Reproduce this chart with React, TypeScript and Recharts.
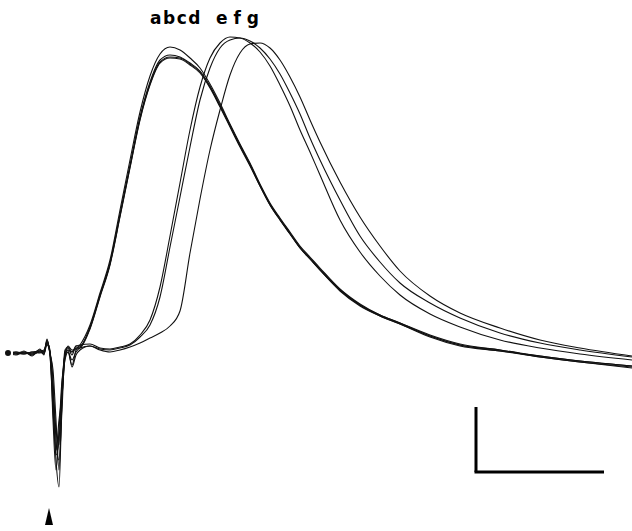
import React from 'react';
import { LineChart, Line, XAxis, YAxis, ReferenceLine, ReferenceDot } from 'recharts';

// time grid (chart time units)
const timeGrid = [8, 16, 24, 32, 40, 44, 47, 50, 53, 56, 59, 62, 65, 68, 72, 76, 80, 90, 100, 110, 120, 130, 140, 150, 160, 170, 180, 190, 200, 210, 220, 230, 240, 250, 260, 270, 280, 290, 300, 310, 320, 340, 360, 380, 400, 430, 460, 500, 540, 580, 632];

// potential traces (relative to baseline)
const traceA = [0, -1, 2, -3, 4, -2, 13, -2, -47, -107, -134, -47, -2, 3, 1, 5, 6, 26, 58, 90, 139, 188, 236, 271, 293, 298, 296, 290, 282, 267, 248, 228, 208, 189, 168, 149, 134, 120, 106, 95, 84, 63, 48, 38, 30, 17, 8, 3, -3, -8, -13];
const traceB = [1, 0, -1, 1, 2, 3, 10, 3, -67, -117, -77, -27, -7, 1, -12, 3, 8, 28, 60, 93, 143, 193, 241, 277, 299, 306, 303, 295, 285, 269, 250, 229, 209, 190, 169, 150, 135, 121, 107, 96, 85, 64, 49, 38, 30, 18, 9, 3, -4, -9, -14];
const traceC = [-1, 1, 0, -1, 1, 0, 8, 1, -27, -87, -107, -57, 1, 5, -2, 7, 7, 25, 57, 89, 137, 186, 234, 269, 291, 296, 295, 289, 281, 266, 247, 227, 207, 188, 167, 148, 133, 119, 105, 94, 83, 62, 47, 37, 29, 16, 7, 2, -4, -9, -15];
const traceD = [0, -2, 1, 0, 3, 1, 12, -3, -57, -97, -67, -42, -5, 7, 3, 4, 5, 24, 56, 88, 136, 185, 233, 268, 290, 295, 294, 288, 280, 265, 246, 226, 206, 187, 167, 148, 133, 119, 105, 94, 83, 63, 48, 37, 29, 17, 8, 2, -3, -8, -13];
const traceE = [0, 1, -1, 1, 0, 2, 9, 0, -37, -77, -92, -37, 3, 6, 1, 7, 8, 9, 5, 4, 6, 9, 18, 33, 66, 117, 170, 223, 266, 295, 310, 316, 315, 310, 301, 287, 268, 247, 223, 201, 178, 133, 101, 77, 58, 39, 26, 13, 5, -1, -7];
const traceF = [1, -1, 1, -2, 2, 0, 14, -1, -17, -67, -117, -47, -3, 1, -7, 1, 5, 7, 4, 3, 5, 8, 16, 28, 56, 106, 156, 206, 253, 285, 305, 313, 315, 312, 305, 294, 279, 260, 239, 215, 193, 153, 117, 91, 70, 50, 35, 20, 10, 3, -4];
const traceG = [0, 0, 0, -1, 1, -1, 11, 1, -42, -102, -87, -32, -2, 3, -14, -2, 3, 7, 3, 1, 3, 6, 10, 15, 20, 27, 42, 100, 154, 203, 243, 278, 300, 309, 310, 305, 293, 276, 256, 233, 211, 171, 136, 107, 82, 57, 40, 25, 13, 5, -3];

const seriesKeys = ['a', 'b', 'c', 'd', 'e', 'f', 'g'];
const seriesValues = [traceA, traceB, traceC, traceD, traceE, traceF, traceG];

const groupLabels = ['abcd', 'e f g'];
const stimulusTime = 49;

// scale bar (in chart units)
const scaleBarTime = 128;
const scaleBarAmp = 65;

const rows = timeGrid.map((t, i) => {
  const r: any = { t };
  seriesKeys.forEach((k, j) => {
    r[k] = seriesValues[j][i];
  });
  return r;
});

const W = 632;
const H = 531;

export default function App() {
  const barX = 476;
  const barY = -119;
  return (
    <div style={{ position: 'absolute', left: 0, top: 0, width: W, height: H, background: '#fff' }}>
      <LineChart width={W} height={H} data={rows} margin={{ top: 0, right: 0, bottom: 0, left: 0 }}>
        <XAxis type="number" dataKey="t" domain={[0, 632]} hide />
        <YAxis type="number" domain={[-178, 353]} hide allowDataOverflow />
        {seriesKeys.map((k) => (
          <Line
            key={k}
            dataKey={k}
            type="monotone"
            stroke="#111"
            strokeWidth={1.1}
            dot={false}
            isAnimationActive={false}
          />
        ))}
        <ReferenceLine
          segment={[{ x: barX, y: barY }, { x: barX, y: barY + scaleBarAmp }]}
          stroke="#000"
          strokeWidth={3}
          ifOverflow="visible"
        />
        <ReferenceLine
          segment={[{ x: barX - 1.5, y: barY }, { x: barX + scaleBarTime, y: barY }]}
          stroke="#000"
          strokeWidth={3}
          ifOverflow="visible"
        />
        <ReferenceDot
          x={stimulusTime}
          y={-155}
          r={0}
          ifOverflow="visible"
          shape={(p: any) => (
            <path d={`M${p.cx},${p.cy} L${p.cx - 4},${p.cy + 17} L${p.cx + 4},${p.cy + 17} Z`} fill="#000" />
          )}
        />
        <ReferenceDot
          x={150}
          y={330}
          r={0}
          ifOverflow="visible"
          shape={(p: any) => (
            <text x={p.cx} y={p.cy + 1} fontFamily="DejaVu Sans" fontWeight="bold" fontSize={17} letterSpacing={1.5} fill="#000">
              {groupLabels[0]}
            </text>
          )}
        />
        <ReferenceDot
          x={216}
          y={330}
          r={0}
          ifOverflow="visible"
          shape={(p: any) => (
            <text x={p.cx} y={p.cy + 1} fontFamily="DejaVu Sans" fontWeight="bold" fontSize={17} letterSpacing={0} fill="#000">
              {groupLabels[1]}
            </text>
          )}
        />
      </LineChart>
    </div>
  );
}
